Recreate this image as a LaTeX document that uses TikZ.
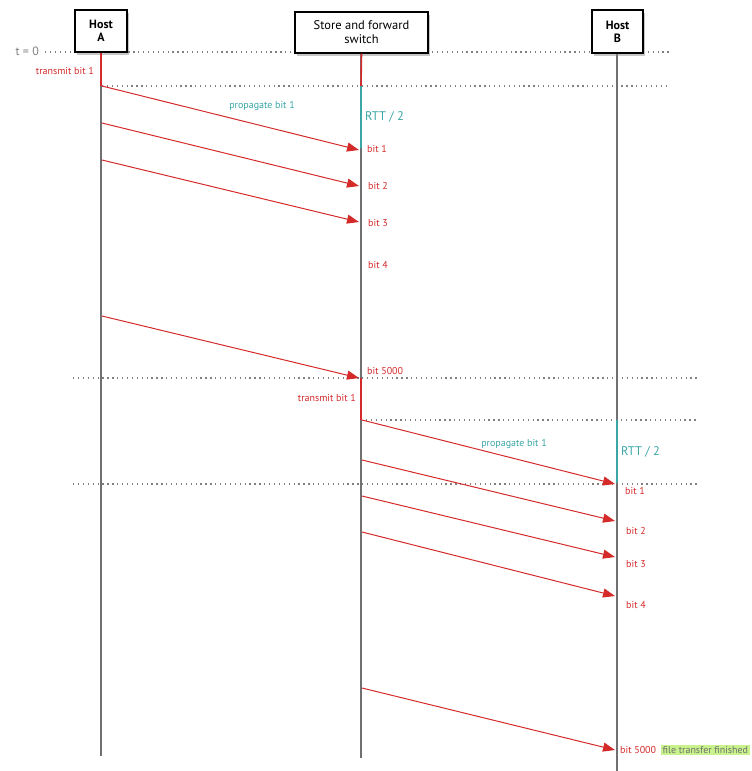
\documentclass[tikz,border=0pt]{standalone}
\usepackage{fontspec}
\setmainfont{PT Sans}
\usetikzlibrary{arrows.meta,shadows}
\definecolor{rd}{HTML}{D42A2A}
\definecolor{tl}{HTML}{3AA6A6}
\definecolor{gn}{HTML}{C8F28C}
\definecolor{dl}{HTML}{707070}
\tikzset{
  hostbox/.style={draw=black,line width=1.4pt,fill=white,drop shadow={shadow xshift=2pt,shadow yshift=-3pt,opacity=0.45},inner sep=0pt,align=center,font=\bfseries\fontsize{12}{13}\selectfont},
  lifeline/.style={draw=dl,line width=1.6pt},
  dotline/.style={draw=gray,line width=1.3pt,dash pattern=on 1.3pt off 3.6pt},
  msg/.style={draw=rd,line width=1pt,-{Triangle[length=12pt,width=9pt]}},
  rlab/.style={text=rd,font=\fontsize{10}{11}\selectfont,inner sep=1pt},
  tlab/.style={text=tl,font=\fontsize{10}{11}\selectfont,inner sep=1pt},
  rttlab/.style={text=tl,font=\fontsize{12.5}{13}\selectfont,inner sep=1pt},
  seg/.style={line width=1.6pt},
}
\begin{document}
\begin{tikzpicture}[x=1pt,y=-1pt]
\useasboundingbox (0,0) rectangle (752,771);
% dotted lines
\coordinate (d0a) at (45,52); \coordinate (d0b) at (670,52);
\coordinate (d1a) at (102,86); \coordinate (d1b) at (670,86);
\coordinate (d2a) at (73,378); \coordinate (d2b) at (697,378);
\coordinate (d3a) at (361,420); \coordinate (d3b) at (697,420);
\coordinate (d4a) at (73,484); \coordinate (d4b) at (697,484);
\draw[dotline] (d0a) -- (d0b);
\draw[dotline] (d1a) -- (d1b);
\draw[dotline] (d2a) -- (d2b);
\draw[dotline] (d3a) -- (d3b);
\draw[dotline] (d4a) -- (d4b);
\node[text=gray,font=\fontsize{12}{13}\selectfont,anchor=east,inner sep=1pt] (t0) at (40,51) {t = 0};
% lifelines
\coordinate (aBot) at (101,756);
\coordinate (sBot) at (361,758);
\coordinate (bBot) at (617,771);
\draw[lifeline] (101,52) -- (aBot);
\draw[lifeline] (361,53) -- (sBot);
\draw[lifeline] (617,53) -- (bBot);
% boxes
\node[hostbox,minimum width=52pt,minimum height=42pt] (hA) at (101,31) {Host\\A};
\node[hostbox,minimum width=133pt,minimum height=41pt,font=\fontsize{12.5}{14}\selectfont] (sw) at (361.5,32.5) {Store and forward\\switch};
\node[hostbox,minimum width=51pt,minimum height=43pt] (hB) at (617.5,31.5) {Host\\B};
% transmit / RTT segments
\draw[rd,seg] (hA.south) -- (101,86);
\draw[rd,seg] (sw.south) -- (361,86);
\draw[tl,seg] (361,86) -- (361,148);
\draw[rd,seg] (361,378) -- (361,420);
\draw[tl,seg] (617,420) -- (617,483);
\node[rlab,anchor=east] (tr1) at (95,71) {transmit bit 1};
\node[rlab,anchor=east] (tr2) at (357,398) {transmit bit 1};
\node[tlab] (pr1) at (262,106) {propagate bit 1};
\node[tlab] (pr2) at (514,444) {propagate bit 1};
\node[rttlab,anchor=west] (rtt1) at (364,117) {RTT / 2};
\node[rttlab,anchor=west] (rtt2) at (620,452) {RTT / 2};
% first hop
\coordinate (a1) at (102,86);  \coordinate (s1) at (359,150);
\coordinate (a2) at (102,123); \coordinate (s2) at (359,186);
\coordinate (a3) at (102,160); \coordinate (s3) at (359,222);
\coordinate (a4) at (102,316); \coordinate (s5) at (359,378);
\draw[msg] (a1) -- (s1);
\draw[msg] (a2) -- (s2);
\draw[msg] (a3) -- (s3);
\draw[msg] (a4) -- (s5);
\node[rlab,anchor=west] (sb1) at (366,149) {bit 1};
\node[rlab,anchor=west] (sb2) at (367,186) {bit 2};
\node[rlab,anchor=west] (sb3) at (367,223) {bit 3};
\node[rlab,anchor=west] (sb4) at (367,265) {bit 4};
\node[rlab,anchor=west] (sb5) at (366,371) {bit 5000};
% second hop
\coordinate (c1) at (362,420); \coordinate (b1) at (615,484);
\coordinate (c2) at (362,460); \coordinate (b2) at (615,521);
\coordinate (c3) at (362,496); \coordinate (b3) at (615,557);
\coordinate (c4) at (362,532); \coordinate (b4) at (615,596);
\coordinate (c5) at (362,688); \coordinate (b5) at (615,750);
\draw[msg] (c1) -- (b1);
\draw[msg] (c2) -- (b2);
\draw[msg] (c3) -- (b3);
\draw[msg] (c4) -- (b4);
\draw[msg] (c5) -- (b5);
\node[rlab,anchor=west] (bb1) at (624,491) {bit 1};
\node[rlab,anchor=west] (bb2) at (625,531) {bit 2};
\node[rlab,anchor=west] (bb3) at (625,564) {bit 3};
\node[rlab,anchor=west] (bb4) at (625,605) {bit 4};
\node[rlab,anchor=west] (bb5) at (619,750) {bit 5000};
\node[fill=gn,text=dl,font=\fontsize{10}{11}\selectfont,inner sep=1.5pt,anchor=west] (fin) at (661,750) {file transfer finished};
\end{tikzpicture}
\end{document}
